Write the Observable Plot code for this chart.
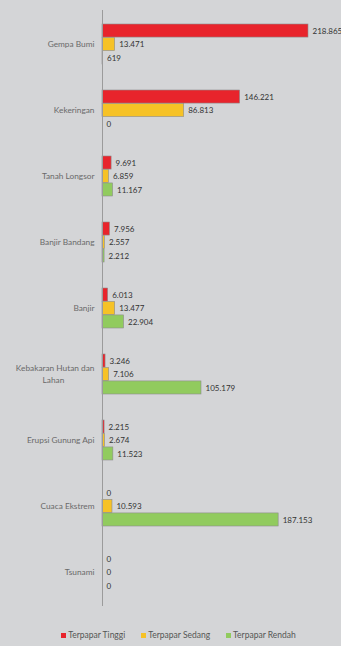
<!DOCTYPE html>
<html><head><meta charset="utf-8">
<script src="https://cdn.jsdelivr.net/npm/d3@7"></script>
<script src="https://cdn.jsdelivr.net/npm/@observablehq/plot@0.6"></script>
<style>
html,body{margin:0;padding:0;background:#d4d5d7;}
#chart{width:341px;height:646px;position:relative;font-family:Lato,"Open Sans",sans-serif;}
#legend{display:flex;justify-content:center;gap:16px;font-size:8.5px;color:#555;margin-top:10px;margin-left:16px;}
#legend span.sw{display:inline-block;width:5px;height:5px;margin-right:2px;vertical-align:0px;}
</style></head>
<body><div id="chart"></div>
<script>
const categories = ["Gempa Bumi","Kekeringan","Tanah Longsor","Banjir Bandang","Banjir","Kebakaran Hutan dan Lahan","Erupsi Gunung Api","Cuaca Ekstrem","Tsunami"];
const seriesNames = ["Terpapar Tinggi","Terpapar Sedang","Terpapar Rendah"];
const tinggi = [218865,146221,9691,7956,6013,3246,2215,0,0];
const sedang = [13471,86813,6859,2557,13477,7106,2674,10593,0];
const rendah = [619,0,11167,2212,22904,105179,11523,187153,0];
const colors = ["#e8242c","#f6c226","#91cb5e"];

const seriesValues = [tinggi, sedang, rendah];
const rows = [];
categories.forEach((c, ci) => seriesValues.forEach((vals, si) => rows.push({category: c, series: seriesNames[si], si, value: vals[ci]})));

const W = 341, H = 620, mt = 10, mb = 14, ml = 102, mr = 33;
const pInner = 0.39, pOuter = pInner / 2;
const step = (H - mt - mb) / categories.length;
const bw = step * (1 - pInner);
const bh = bw / 3;

const loc = d3.formatLocale({decimal: ",", thousands: ".", grouping: [3], currency: ["", ""]});
const fmt = loc.format(",");

const marks = [];
seriesNames.forEach((s, si) => {
  const data = rows.filter(r => r.si === si);
  marks.push(Plot.barX(data, {
    x: "value", y: "category", fill: colors[si], stroke: "#8c8c8c", strokeWidth: 0.6,
    insetTop: si * bh, insetBottom: (2 - si) * bh
  }));
  marks.push(Plot.text(data, {
    x: "value", y: "category", text: d => fmt(d.value), dx: 4, dy: (si - 1) * bh,
    textAnchor: "start", fill: "#333", fontSize: 8
  }));
});
marks.push(Plot.ruleX([0], {stroke: "#9b9b9b", strokeWidth: 1}));
const shortCats = categories.filter(c => c.length < 20);
const longCats = categories.filter(c => c.length >= 20);
marks.push(Plot.text(shortCats, {
  y: d => d, frameAnchor: "left", dx: -8, textAnchor: "end", fill: "#6a6a6a", fontSize: 8.3
}));
marks.push(Plot.text(longCats, {
  y: d => d, text: d => d.replace(/ \S+$/, ""), frameAnchor: "left", dx: -8, dy: -6,
  textAnchor: "end", fill: "#6a6a6a", fontSize: 8.3
}));
marks.push(Plot.text(longCats, {
  y: d => d, text: d => d.match(/\S+$/)[0], frameAnchor: "left", dx: -49, dy: 6,
  textAnchor: "middle", fill: "#6a6a6a", fontSize: 8.3
}));

const chart = Plot.plot({
  width: W, height: H, marginTop: mt, marginBottom: mb, marginLeft: ml, marginRight: mr,
  style: {background: "transparent", fontFamily: "Lato, 'Open Sans', sans-serif"},
  x: {domain: [0, d3.max(rows, d => d.value)], axis: null},
  y: {domain: categories, axis: null, paddingInner: pInner, paddingOuter: pOuter},
  marks
});
document.getElementById("chart").appendChild(chart);

const legend = document.createElement("div");
legend.id = "legend";
seriesNames.forEach((s, i) => {
  const item = document.createElement("div");
  item.innerHTML = `<span class="sw" style="background:${colors[i]}"></span>${s}`;
  legend.appendChild(item);
});
document.getElementById("chart").appendChild(legend);
</script>
</body></html>
